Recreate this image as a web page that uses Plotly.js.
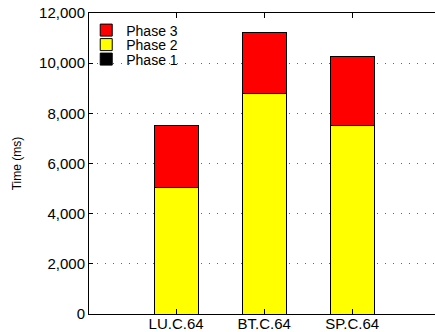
<!DOCTYPE html>
<html>
<head>
<meta charset="utf-8">
<script src="https://cdn.plot.ly/plotly-3.0.1.min.js"></script>
<style>
html,body{margin:0;padding:0;background:#fff;overflow:hidden;}
#chart{width:435px;height:332px;}
</style>
</head>
<body>
<div id="chart"></div>
<script>
var categories = ["LU.C.64", "BT.C.64", "SP.C.64"];
var phase1 = [0, 0, 0];
var phase2 = [5030, 8780, 7500];
var phase3 = [2480, 2450, 2770];
var yTickVals = [0, 2000, 4000, 6000, 8000, 10000, 12000];
var yTickText = ["0", "2,000", "4,000", "6,000", "8,000", "10,000", "12,000"];

var FONT = "Liberation Sans, Arial, sans-serif";

function barTrace(name, vals, color, legendId) {
  return {
    type: "bar",
    name: name,
    x: categories,
    y: vals,
    width: 0.5,
    marker: {color: color, line: {color: "#000", width: 1}},
    legend: legendId,
    hoverinfo: "skip"
  };
}

var data = [
  barTrace("Phase 1", phase1, "#000000", "legend3"),
  barTrace("Phase 2", phase2, "#ffff00", "legend2"),
  barTrace("Phase 3", phase3, "#ff0000", "legend")
];

function leg(yPx) {
  return {
    x: -0.008, xanchor: "left",
    y: (314 - yPx) / 301, yanchor: "middle",
    bgcolor: "rgba(0,0,0,0)",
    borderwidth: 0,
    font: {family: FONT, size: 14, color: "#000"}
  };
}

var layout = {
  width: 435, height: 332,
  margin: {l: 89, r: 0, t: 13, b: 18, pad: 0},
  paper_bgcolor: "#fff", plot_bgcolor: "#fff",
  barmode: "stack",
  showlegend: true,
  legend: leg(30.5),
  legend2: leg(45),
  legend3: leg(59.5),
  xaxis: {
    type: "category",
    range: [-0.989, 2.94],
    showline: true, linecolor: "#000", linewidth: 1,
    mirror: "ticks",
    ticks: "inside", ticklen: 5, tickcolor: "#000",
    showgrid: false, zeroline: false,
    tickfont: {family: FONT, size: 15, color: "#000"},
    ticklabelstandoff: -4,
    automargin: false,
    fixedrange: true
  },
  yaxis: {
    range: [0, 12000],
    tickvals: yTickVals, ticktext: yTickText,
    showline: true, linecolor: "#000", linewidth: 1,
    ticks: "inside", ticklen: 4, tickcolor: "#000",
    showgrid: true, gridcolor: "#666", griddash: "1px,7px", gridwidth: 1,
    zeroline: false,
    tickfont: {family: FONT, size: 15, color: "#000"},
    title: {text: "Time (ms)", font: {family: FONT, size: 12, color: "#000"}, standoff: 14},
    automargin: false,
    fixedrange: true
  }
};

Plotly.newPlot("chart", data, layout, {displayModeBar: false, staticPlot: true});
</script>
</body>
</html>
